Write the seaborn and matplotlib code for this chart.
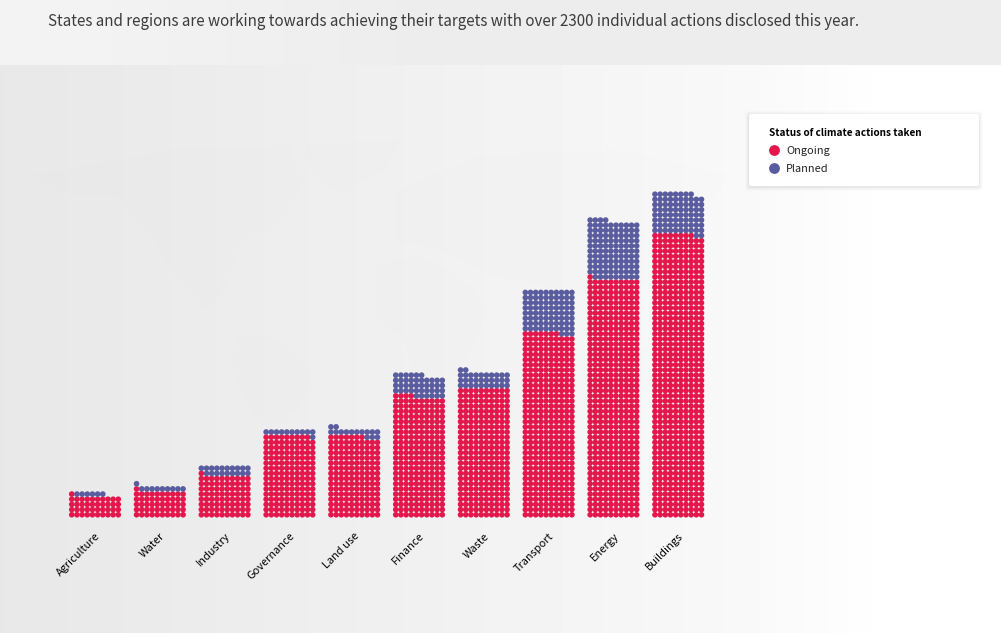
# waffle chart of climate actions per sector
import numpy as np
import pandas as pd
import matplotlib.pyplot as plt
from matplotlib.lines import Line2D
from matplotlib.patches import FancyBboxPatch, Polygon, Rectangle
import seaborn as sns

categories = ['Agriculture', 'Water', 'Industry', 'Governance', 'Land use',
              'Finance', 'Waste', 'Transport', 'Energy', 'Buildings']
ongoing = [41, 51, 81, 159, 157, 234, 250, 357, 461, 548]
planned = [6, 10, 19, 11, 15, 42, 32, 83, 113, 80]
status_names = ['Ongoing', 'Planned']
status_colors = ['#E3174B', '#595C9E']
headline = 'States and regions are working towards achieving their targets with over 2300 individual actions disclosed this year.'
legend_title = 'Status of climate actions taken'

W, H = 1001, 633
PITCH = 5.17       # px between two dots
GAP = 64.8 / PITCH  # bar to bar distance, in dots
PER_ROW = 10

# one row per dot
rows = []
for i, cat in enumerate(categories):
    n = 0
    for name, count in zip(status_names, (ongoing[i], planned[i])):
        for k in range(count):
            rows.append({'x': i * GAP + n % PER_ROW, 'y': n // PER_ROW, 'status': name})
            n += 1
df = pd.DataFrame(rows)

sns.set_theme(style='white')
plt.rcParams['font.family'] = ['Noto Sans CJK SC', 'DejaVu Sans']

fig = plt.figure(figsize=(W / 100, H / 100), dpi=100)

# page background, px coordinates
bg = fig.add_axes([0, 0, 1, 1], zorder=0)
xs = np.arange(W)
grad = np.interp(xs, [0, 120, 400, 600, 760, 870, W], [232, 234, 240, 245, 249, 254, 255])
bg.imshow(np.tile(grad, (2, 1)), cmap='gray', vmin=0, vmax=255, extent=(0, W, H, 65), aspect='auto', zorder=0)
band = np.interp(xs, [0, 400, W], [244, 237, 237])
bg.imshow(np.tile(band, (2, 1)), cmap='gray', vmin=0, vmax=255, extent=(0, W, 65, 0), aspect='auto', zorder=0)
bg.set_xlim(0, W)
bg.set_ylim(H, 0)
bg.axis('off')

# very faint world map behind the dots
land = [
    [(30, 175), (90, 165), (170, 150), (290, 145), (300, 190), (270, 225), (240, 250), (225, 290), (205, 310), (175, 280), (150, 235), (115, 195), (70, 195)],
    [(235, 335), (270, 335), (315, 375), (295, 410), (270, 430), (250, 410), (230, 365)],
    [(305, 145), (400, 140), (385, 170), (340, 195), (315, 175)],
    [(375, 265), (420, 255), (470, 285), (490, 310), (465, 360), (440, 400), (420, 400), (405, 340), (375, 315)],
    [(395, 190), (480, 155), (620, 150), (730, 175), (690, 230), (650, 280), (600, 300), (540, 285), (490, 275), (440, 250), (395, 240)],
    [(620, 350), (680, 340), (700, 380), (660, 395), (620, 385)],
]
for pts in land:
    bg.add_patch(Polygon(pts, closed=True, fc='black', ec='none', alpha=0.005, zorder=1))

bg.text(48, 22, headline, fontsize=10.9, color='#3c3c3c', va='center', ha='left')
bg.add_patch(Rectangle((979, 75), 10, 10, fc='white', ec='none', alpha=0.45, zorder=1))

# legend card with a soft shadow
for grow, a in [(4, 0.012), (3, 0.016), (2, 0.022), (1, 0.03)]:
    bg.add_patch(FancyBboxPatch((749 - grow, 115 - grow), 230 + 2 * grow, 72 + 2 * grow,
                                boxstyle='round,pad=0,rounding_size=3', fc='black', ec='none', alpha=a, zorder=2))
bg.add_patch(FancyBboxPatch((749, 114), 230, 72, boxstyle='round,pad=0,rounding_size=2', fc='white', ec='none', zorder=3))

# chart area, ends just below the bars so the tick labels sit under it
AX_BOTTOM = 522
ROW0 = 514.75
COL0 = 71.75
ax = fig.add_axes([0, (H - AX_BOTTOM) / H, 1, AX_BOTTOM / H], zorder=1)
ax.patch.set_alpha(0)
sns.scatterplot(data=df, x='x', y='y', hue='status', hue_order=status_names, palette=status_colors,
                s=16.5, linewidth=0, ax=ax, legend=False)
ax.set_xlim(-COL0 / PITCH, (W - COL0) / PITCH)
ax.set_ylim(-(AX_BOTTOM - ROW0) / PITCH, ROW0 / PITCH)
ax.set_xlabel('')
ax.set_ylabel('')
ax.set_yticks([])
ax.set_xticks([i * GAP + (PER_ROW - 1) / 2 for i in range(len(categories))])
ax.set_xticklabels(categories, rotation=45, ha='right', rotation_mode='anchor', fontsize=7.9, color='black')
ax.tick_params(axis='x', length=0, pad=6.5)
sns.despine(ax=ax, left=True, bottom=True)

handles = [Line2D([], [], ls='none', marker='o', ms=7.8, mew=0, color=c) for c in status_colors]
leg = ax.legend(handles, status_names, title=legend_title, loc='upper left', bbox_to_anchor=(769, 128.5),
                bbox_transform=bg.transData, frameon=False, borderpad=0, borderaxespad=0, handlelength=0.9,
                handletextpad=0.65, labelspacing=0.7, alignment='left', fontsize=7.9, title_fontsize=7.2)
leg.get_title().set_fontweight('bold')
leg.get_title().set_color('black')
for t in leg.get_texts():
    t.set_color('#222222')

fig.savefig('out.png', dpi=100)
